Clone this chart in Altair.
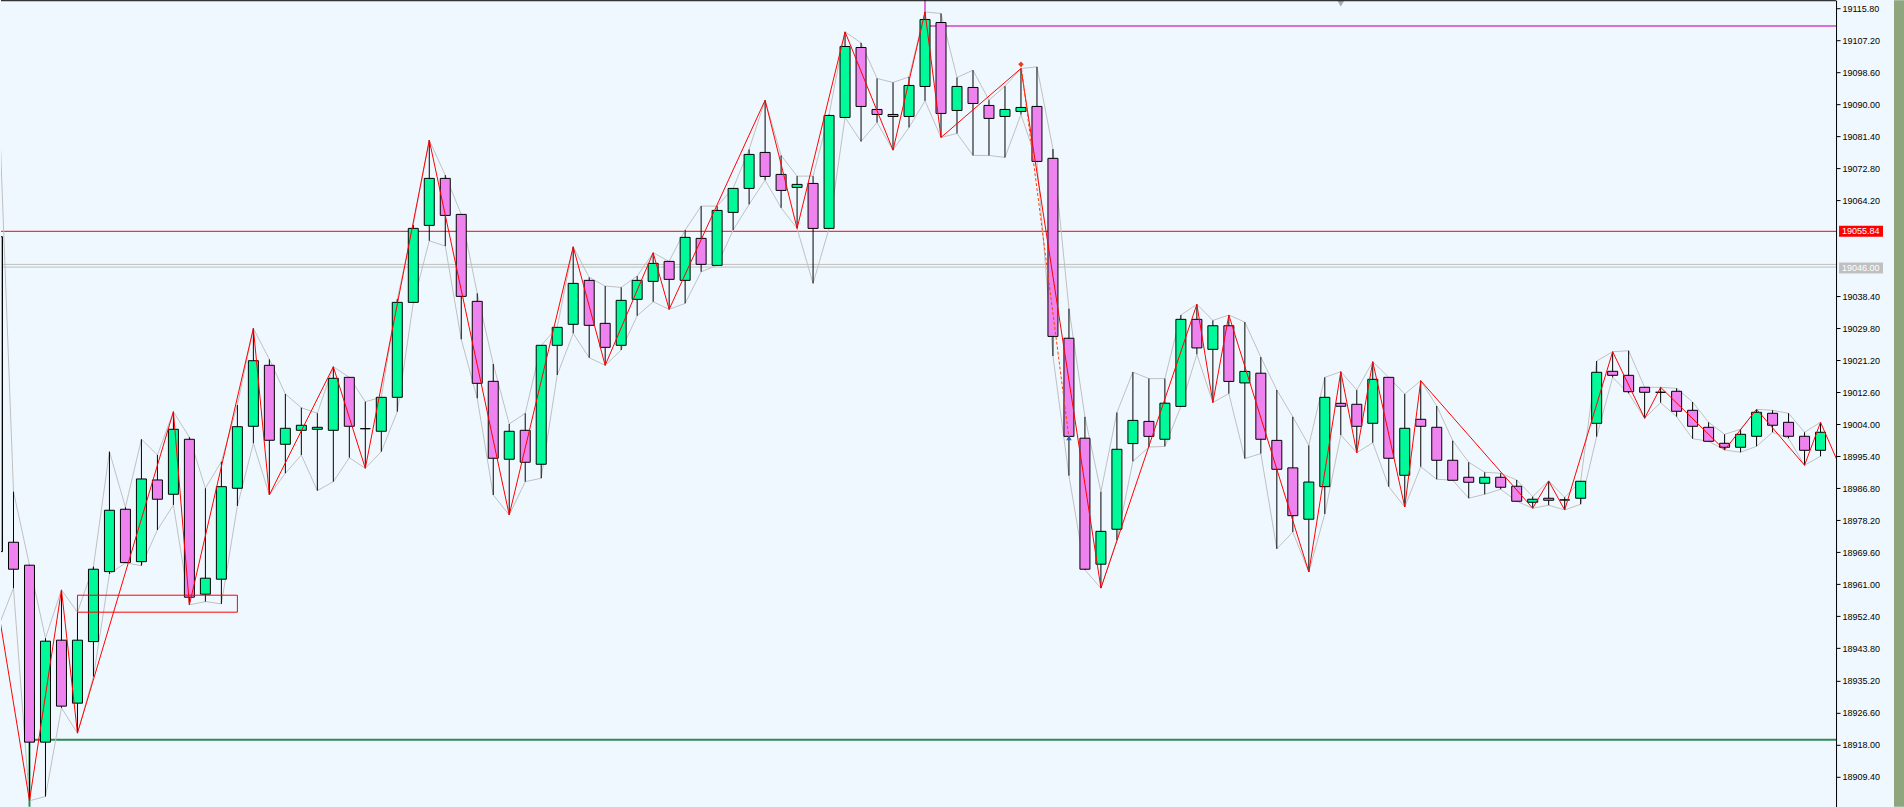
import altair as alt
import pandas as pd

# ---------------- data ----------------
bar_index = list(range(-1, 114))

opens = [
    19054.37,
    18972.31, 18966.14, 18918.61, 18946.00, 18929.08, 18945.62, 18964.42, 18981.17, 18967.10, 18989.04,
    18985.20, 18999.97, 18958.35, 18962.38, 18986.81, 19003.46, 19019.84, 18998.63, 19002.38, 19002.65,
    19002.38, 19016.61, 19002.81, 19002.12, 19011.24, 19036.75, 19057.43, 19070.05, 19060.38, 19037.02,
    19015.54, 18994.60, 19002.38, 18993.26, 19025.21, 19030.85, 19042.66, 19031.11, 19025.21, 19037.56,
    19042.39, 19047.76, 19042.66, 19053.94, 19046.69, 19060.92, 19067.36, 19077.03, 19071.12, 19067.63,
    19068.70, 19056.62, 19086.42, 19105.22, 19088.57, 19087.23, 19086.69, 19094.75, 19111.93, 19088.30,
    19094.48, 19089.65, 19086.69, 19088.04, 19089.38, 19075.44, 19027.11, 19000.26, 18966.41, 18975.80,
    18998.81, 19004.77, 18999.97, 19008.80, 19032.19, 19024.13, 19030.47, 19015.11, 19017.72, 18999.67,
    18992.29, 18978.49, 18987.24, 19009.63, 19009.37, 19004.26, 19016.61, 18990.30, 19005.34, 19003.19,
    18994.33, 18989.76, 18988.15, 18989.76, 18987.35, 18983.05, 18984.13, 18983.67, 18984.13, 19004.26,
    19018.23, 19017.15, 19013.93, 19012.59, 19012.86, 19007.75, 19003.19, 18998.89, 18997.82, 19000.77,
    19006.95, 19004.53, 19000.77, 18997.01,
]
highs = [
    19099.93,
    18985.90, 18966.14, 18946.54, 18959.50, 18953.52, 18965.76, 18996.64, 18981.71, 18999.97, 18995.75,
    19007.38, 19000.51, 18986.81, 18993.95, 19009.18, 19029.77, 19021.45, 19012.13, 19008.45, 19006.95,
    19019.46, 19016.61, 19010.06, 19011.24, 19037.64, 19057.51, 19080.33, 19070.93, 19060.38, 19039.17,
    19020.19, 19004.08, 19006.95, 19025.21, 19030.04, 19051.68, 19043.46, 19041.13, 19040.78, 19043.81,
    19050.07, 19047.76, 19056.16, 19062.61, 19062.61, 19067.36, 19077.83, 19091.07, 19076.22, 19070.66,
    19070.66, 19087.23, 19109.41, 19106.46, 19096.90, 19095.82, 19097.33, 19114.78, 19114.35, 19097.16,
    19099.12, 19091.07, 19094.83, 19099.58, 19100.01, 19077.94, 19035.06, 19006.01, 18985.87, 19007.16,
    19018.01, 19016.27, 19016.27, 19033.34, 19036.22, 19031.89, 19033.34, 19031.44, 19022.04, 19013.20,
    19006.01, 18998.33, 19016.61, 19018.12, 19013.20, 19020.80, 19016.61, 19012.13, 19015.70, 19008.91,
    18999.59, 18993.79, 18991.11, 18990.84, 18989.04, 18984.56, 18988.77, 18984.39, 18988.69, 19020.99,
    19023.49, 19023.76, 19013.93, 19013.93, 19013.66, 19009.98, 19004.53, 19001.31, 19002.65, 19008.02,
    19007.75, 19006.95, 19001.85, 19004.53,
]
lows = [
    18949.03,
    18959.96, 18902.85, 18904.01, 18927.82, 18921.03, 18936.23, 18963.80, 18966.75, 18966.03, 18975.61,
    18982.33, 18955.48, 18956.36, 18955.75, 18982.06, 18998.89, 18985.01, 18990.84, 18995.75, 18986.17,
    18988.58, 18995.03, 18992.18, 18996.64, 19007.38, 19036.56, 19053.29, 19051.87, 19026.82, 19010.98,
    18985.01, 18979.64, 18988.58, 18989.50, 19017.23, 19028.43, 19021.88, 19019.84, 19023.94, 19033.15,
    19036.91, 19034.87, 19036.48, 19044.97, 19046.69, 19056.16, 19063.07, 19069.59, 19062.15, 19056.62,
    19041.85, 19056.62, 19086.42, 19079.98, 19085.08, 19077.64, 19083.74, 19090.88, 19081.05, 19082.13,
    19076.22, 19076.22, 19075.68, 19087.23, 19074.61, 19022.33, 18990.19, 18964.87, 18959.99, 18972.93,
    18994.03, 18997.87, 18998.06, 19008.80, 19022.79, 19009.85, 19012.24, 18994.79, 18996.13, 18970.54,
    18975.05, 18964.31, 18979.91, 19001.12, 18996.37, 18999.05, 18987.24, 18981.79, 18992.61, 18989.23,
    18988.96, 18984.13, 18985.20, 18986.54, 18983.32, 18981.44, 18982.25, 18980.98, 18982.52, 19000.67,
    19016.61, 19012.32, 19005.61, 19009.80, 19006.04, 19000.13, 18999.43, 18997.09, 18996.48, 18998.09,
    19001.85, 19000.24, 18992.99, 18995.40,
]
closes = [
    18969.79,
    18965.06, 18918.61, 18945.73, 18928.28, 18946.00, 18965.06, 18980.90, 18966.84, 18989.31, 18983.86,
    19002.65, 18957.54, 18962.65, 18987.24, 19003.35, 19021.07, 18999.70, 19002.92, 19003.73, 19003.19,
    19016.35, 19003.46, 19002.81, 19011.24, 19036.75, 19056.62, 19070.05, 19060.11, 19038.36, 19015.00,
    18994.87, 19002.12, 18993.79, 19025.21, 19030.04, 19041.85, 19030.58, 19024.67, 19037.29, 19042.66,
    19047.22, 19042.93, 19054.21, 19046.96, 19061.45, 19067.36, 19076.49, 19070.58, 19066.82, 19068.44,
    19056.62, 19086.96, 19105.49, 19089.38, 19087.23, 19086.69, 19095.02, 19112.74, 19087.50, 19094.75,
    19090.18, 19086.16, 19088.57, 19089.11, 19074.61, 19027.60, 19000.75, 18965.06, 18975.24, 18997.28,
    19005.04, 19000.75, 19009.66, 19032.19, 19024.51, 19030.47, 19015.51, 19018.20, 18999.97, 18991.91,
    18979.45, 18988.48, 19011.24, 19008.83, 19003.46, 19016.08, 18994.87, 19002.92, 19003.46, 18994.33,
    18988.96, 18988.42, 18989.76, 18987.08, 18983.32, 18983.86, 18983.59, 18983.67, 18988.69, 19017.96,
    19017.15, 19012.75, 19012.59, 19012.59, 19007.49, 19003.46, 18999.43, 18997.82, 19001.31, 19007.22,
    19003.73, 19000.77, 18997.01, 19001.85,
]

# zigzag pivots (bar index, price)
zz_index = [-1, 1, 3, 4, 10, 11, 15, 16, 20, 22, 26, 31, 35, 37, 40, 41, 47, 49, 52, 55, 57, 58, 63,
            68, 74, 75, 76, 81, 83, 84, 85, 87, 88, 95, 96, 97, 100, 102, 103, 107, 109, 112, 113, 114]
zz_price = [18955.40, 18902.85, 18959.50, 18921.03, 19007.38, 18955.48, 19029.77, 18985.01, 19019.46,
            18992.18, 19080.33, 18979.64, 19051.68, 19019.84, 19050.07, 19034.87, 19091.07, 19056.62,
            19109.41, 19077.64, 19114.78, 19081.05, 19099.58, 18959.99, 19036.22, 19009.85, 19033.34,
            18964.31, 19018.12, 18996.37, 19020.80, 18981.79, 19015.70, 18981.44, 18988.77, 18980.98,
            19023.49, 19005.61, 19013.93, 18997.09, 19008.02, 18992.99, 19004.53, 18994.65]

# dashed projection line and its two markers
proj_index = [63, 66]
proj_price = [19100.74, 19000.33]

axis_ticks = [19115.80, 19107.20, 19098.60, 19090.00, 19081.40, 19072.80, 19064.20, 19038.40,
              19029.80, 19021.20, 19012.60, 19004.00, 18995.40, 18986.80, 18978.20, 18969.60,
              18961.00, 18952.40, 18943.80, 18935.20, 18926.60, 18918.00, 18909.40]

red_level = 19055.84
grey_levels = [19046.95, 19046.23]
grey_label_value = 19046.00
green_level = 18919.23
orchid_level = 19111.02
orchid_start = 57
green_start = 1
box_from, box_to = 4, 14
box_top, box_bottom = 18958.08, 18953.52
top_marker_index = 83
top_marker_price = 19117.0

Y_DOMAIN = [18901.24, 19117.92]
X_DOMAIN = [-0.78125, 113.96875]

# ---------------- frames ----------------
candles = pd.DataFrame({"bar": bar_index, "open": opens, "high": highs, "low": lows, "close": closes})
candles["dir"] = ["down" if o > c else "up" for o, c in zip(opens, closes)]

zz = pd.DataFrame({"bar": zz_index, "price": zz_price})
proj = pd.DataFrame({"bar": proj_index, "price": proj_price})

XS = alt.Scale(domain=X_DOMAIN, nice=False, zero=False, padding=0)
YS = alt.Scale(domain=Y_DOMAIN, nice=False, zero=False, padding=0)

Y_AXIS = alt.Axis(
    orient="right", values=axis_ticks, format=".2f", title=None, grid=False,
    labelFont="Liberation Sans", labelFontSize=9, labelColor="black", labelPadding=2,
    labelOverlap=False, labelFlush=False, labelBound=False,
    tickColor="black", tickSize=4, tickWidth=1, domainColor="black", domainWidth=1)


def X(field="bar"):
    return alt.X(f"{field}:Q", scale=XS, axis=None)


def Y(field):
    return alt.Y(f"{field}:Q", scale=YS, axis=Y_AXIS)


base = alt.Chart(candles)

# horizontal levels (behind candles)
red_line = alt.Chart(pd.DataFrame({"p": [red_level]})).mark_rule(color="#FF0000", strokeWidth=1).encode(y=Y("p"))
grey_lines = alt.Chart(pd.DataFrame({"p": grey_levels})).mark_rule(color="#BDBDBD", strokeWidth=1).encode(y=Y("p"))

green_h = alt.Chart(pd.DataFrame({"a": [green_start], "b": [114], "p": [green_level]})).mark_rule(
    color="#2E8B57", strokeWidth=2, clip=True).encode(x=X("a"), x2="b:Q", y=Y("p"))
green_v = alt.Chart(pd.DataFrame({"a": [green_start], "p": [green_level], "q": [18895.0]})).mark_rule(
    color="#2E8B57", strokeWidth=2, clip=True).encode(x=X("a"), y=Y("p"), y2="q:Q")

orchid_h = alt.Chart(pd.DataFrame({"a": [orchid_start], "b": [114], "p": [orchid_level]})).mark_rule(
    color="#DA70D6", strokeWidth=2, clip=True).encode(x=X("a"), x2="b:Q", y=Y("p"))
orchid_v = alt.Chart(pd.DataFrame({"a": [orchid_start], "p": [highs[orchid_start + 1]], "q": [19120.0]})).mark_rule(
    color="#DA70D6", strokeWidth=2, clip=True).encode(x=X("a"), y=Y("p"), y2="q:Q")

# grey high / low envelope lines
hi_line = base.mark_line(color="#C0C0C0", strokeWidth=1, clip=True).encode(x=X(), y=Y("high"))
lo_line = base.mark_line(color="#C0C0C0", strokeWidth=1, clip=True).encode(x=X(), y=Y("low"))

wicks = base.mark_rule(color="black", strokeWidth=1, clip=True).encode(x=X(), y=Y("low"), y2="high:Q")

bodies = base.mark_bar(size=10, stroke="black", strokeWidth=1, clip=True, opacity=1).encode(
    x=X(), y=Y("open"), y2="close:Q",
    color=alt.Color("dir:N", scale=alt.Scale(domain=["up", "down"], range=["#00FA9A", "#EE82EE"]), legend=None),
)

zigzag = alt.Chart(zz).mark_line(color="#FF0000", strokeWidth=1, clip=True).encode(x=X(), y=Y("price"))

proj_line = alt.Chart(proj).mark_line(color="#FF4500", strokeWidth=1, strokeDash=[3, 2], clip=True).encode(
    x=X(), y=Y("price"))

red_marker = alt.Chart(proj.iloc[[0]]).mark_point(shape="diamond", filled=True, size=30, color="#E8401C", opacity=1).encode(
    x=X(), y=Y("price"))
blue_marker = alt.Chart(proj.iloc[[1]]).mark_point(shape="triangle-up", filled=True, size=30, color="#1E64B4", opacity=1).encode(
    x=X(), y=Y("price"))

rect_box = alt.Chart(pd.DataFrame({"a": [box_from], "b": [box_to], "p": [box_top], "q": [box_bottom]})).mark_rect(
    fill=None, fillOpacity=0, stroke="#FF0000", strokeWidth=1).encode(x=X("a"), x2="b:Q", y=Y("p"), y2="q:Q")

top_marker = alt.Chart(pd.DataFrame({"bar": [top_marker_index], "price": [top_marker_price]})).mark_point(
    shape="triangle-down", filled=True, size=45, color="#A8A8A8", opacity=1, clip=True).encode(x=X(), y=Y("price"))

top_border = alt.Chart(pd.DataFrame({"z": [0]})).mark_rule(color="black", strokeWidth=1).encode(
    x=alt.value(0), x2=alt.value(1836), y=alt.value(0.5))

# price label boxes on the axis
red_box = alt.Chart(pd.DataFrame({"p": [red_level]})).mark_rule(color="#FF0000", strokeWidth=11).encode(
    x=alt.value(1839), x2=alt.value(1883), y=Y("p"))
red_txt = alt.Chart(pd.DataFrame({"p": [red_level], "t": ["19055.84"]})).mark_text(
    align="left", baseline="middle", color="white", font="Liberation Sans", fontSize=9).encode(
    x=alt.value(1842), y=Y("p"), text="t:N")
grey_box = alt.Chart(pd.DataFrame({"p": [grey_label_value]})).mark_rule(color="#C0C0C0", strokeWidth=11).encode(
    x=alt.value(1839), x2=alt.value(1883), y=Y("p"))
grey_txt = alt.Chart(pd.DataFrame({"p": [grey_label_value], "t": ["19046.00"]})).mark_text(
    align="left", baseline="middle", color="white", font="Liberation Sans", fontSize=9).encode(
    x=alt.value(1842), y=Y("p"), text="t:N")

# desktop strip at the far right
strip = alt.Chart(pd.DataFrame({"z": [0]})).mark_rect(color="#8FA57E").encode(
    x=alt.value(1894), x2=alt.value(1904), y=alt.value(0), y2=alt.value(807))

chart = alt.layer(
    red_line, grey_lines, green_h, green_v, orchid_h, orchid_v,
    hi_line, lo_line, wicks, bodies, zigzag, proj_line, rect_box,
    red_marker, blue_marker, top_marker, top_border,
    red_box, red_txt, grey_box, grey_txt, strip,
).properties(
    width=1836, height=807, background="#F0F8FF", padding=0,
).configure_view(stroke=None)

chart.save("out.html", embed_options={"renderer": "svg", "actions": False})
